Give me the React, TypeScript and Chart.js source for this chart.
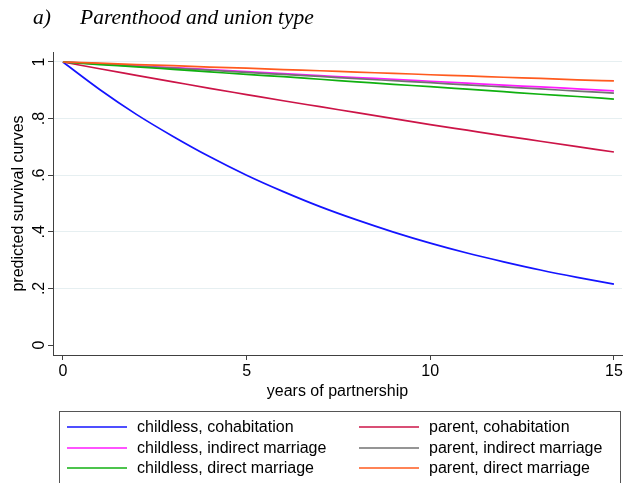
import { useEffect, useRef } from "react";
import { Chart, registerables } from "chart.js";

Chart.register(...registerables);

const years = [0, 1, 2, 3, 4, 5, 6, 7, 8, 9, 10, 11, 12, 13, 14, 15];
const childlessCohabitation = [1, 0.903, 0.815, 0.737, 0.665, 0.6, 0.542, 0.489, 0.442, 0.399, 0.36, 0.325, 0.294, 0.265, 0.239, 0.215];
const parentCohabitation = [1, 0.976, 0.953, 0.93, 0.907, 0.885, 0.863, 0.842, 0.821, 0.8, 0.779, 0.759, 0.739, 0.72, 0.701, 0.682];
const childlessIndirect = [1, 0.993, 0.986, 0.98, 0.973, 0.966, 0.959, 0.952, 0.945, 0.939, 0.932, 0.925, 0.918, 0.912, 0.905, 0.898];
const parentIndirect = [1, 0.993, 0.985, 0.978, 0.971, 0.963, 0.956, 0.949, 0.941, 0.934, 0.927, 0.919, 0.912, 0.905, 0.897, 0.89];
const childlessDirect = [1, 0.991, 0.983, 0.974, 0.965, 0.956, 0.948, 0.939, 0.93, 0.921, 0.913, 0.904, 0.895, 0.886, 0.878, 0.869];
const parentDirect = [1, 0.996, 0.991, 0.987, 0.982, 0.978, 0.973, 0.969, 0.964, 0.96, 0.955, 0.951, 0.946, 0.942, 0.937, 0.933];

const seriesLabels = [
  "childless, cohabitation",
  "parent, cohabitation",
  "childless, indirect marriage",
  "parent, indirect marriage",
  "childless, direct marriage",
  "parent, direct marriage",
];
const seriesValues = [childlessCohabitation, parentCohabitation, childlessIndirect, parentIndirect, childlessDirect, parentDirect];
const seriesColors = ["#1414ff", "#cc1447", "#ff1aff", "#727272", "#10b010", "#ff5a1e"];

const xTickValues = [0, 5, 10, 15];
const yTickValues = [0, 0.2, 0.4, 0.6, 0.8, 1];
const yTickLabels = ["0", ".2", ".4", ".6", ".8", "1"];

const titleTag = "a)";
const titleText = "Parenthood and union type";
const xTitle = "years of partnership";
const yTitle = "predicted survival curves";

const SANS = '"Liberation Sans", Arial, Helvetica, sans-serif';
const SERIF = '"Liberation Serif", "Times New Roman", serif';
const AXIS = "#404040";

const decorPlugin = {
  id: "decor",
  afterDraw(chart: any) {
    const ctx = chart.ctx as CanvasRenderingContext2D;
    const y = chart.scales.y;
    const area = chart.chartArea;
    ctx.save();
    // title
    ctx.fillStyle = "#000";
    ctx.font = `italic 21.5px ${SERIF}`;
    ctx.textBaseline = "alphabetic";
    ctx.textAlign = "left";
    ctx.fillText(titleTag, 33, 24);
    ctx.fillText(titleText, 80, 24);

    // y tick labels (rotated)
    ctx.font = `16px ${SANS}`;
    ctx.textAlign = "center";
    yTickValues.forEach((v, i) => {
      const py = y.getPixelForValue(v);
      ctx.save();
      ctx.translate(44, py);
      ctx.rotate(-Math.PI / 2);
      ctx.fillText(yTickLabels[i], 0, 0);
      ctx.restore();
    });
    // y title
    ctx.save();
    ctx.translate(23, (area.top + area.bottom) / 2);
    ctx.rotate(-Math.PI / 2);
    ctx.fillText(yTitle, 0, 0);
    ctx.restore();

    // legend
    const bx = 59.5, by = 411.5, bw = 561, bh = 100;
    ctx.strokeStyle = "#555";
    ctx.lineWidth = 1;
    ctx.strokeRect(bx, by, bw, bh);
    const rowY = [427, 448, 468];
    const colLine = [67, 359];
    const colText = [137, 429];
    ctx.textAlign = "left";
    ctx.textBaseline = "middle";
    ctx.font = `16px ${SANS}`;
    seriesLabels.forEach((lab, i) => {
      const r = Math.floor(i / 2);
      const c = i % 2;
      ctx.strokeStyle = seriesColors[i];
      ctx.lineWidth = 1.6;
      ctx.beginPath();
      ctx.moveTo(colLine[c], rowY[r]);
      ctx.lineTo(colLine[c] + 60, rowY[r]);
      ctx.stroke();
      ctx.fillStyle = "#000";
      ctx.fillText(lab, colText[c], rowY[r] + 1);
    });
    ctx.restore();
  },
};

export default function App() {
  const ref = useRef<HTMLCanvasElement | null>(null);
  useEffect(() => {
    document.body.style.margin = "0";
    const canvas = ref.current!;
    const chart = new Chart(canvas, {
      type: "line",
      data: {
        datasets: seriesValues.map((vals, i) => ({
          label: seriesLabels[i],
          data: years.map((t, j) => ({ x: t, y: vals[j] })),
          borderColor: seriesColors[i],
          backgroundColor: seriesColors[i],
          borderWidth: 1.7,
          pointRadius: 0,
          cubicInterpolationMode: "monotone" as const,
          fill: false,
          order: seriesValues.length - i,
        })),
      },
      options: {
        animation: false,
        responsive: false,
        devicePixelRatio: 1,
        layout: { padding: { top: 52, left: 0, right: 2, bottom: 68 } },
        plugins: {
          legend: { display: false },
          tooltip: { enabled: false },
          title: { display: false },
        },
        scales: {
          x: {
            type: "linear",
            min: -0.27,
            max: 15.22,
            afterBuildTicks: (s: any) => {
              s.ticks = xTickValues.map((v) => ({ value: v }));
            },
            afterFit: (s: any) => {
              s.height = 60;
              s.paddingLeft = 0;
              s.paddingRight = 0;
            },
            ticks: {
              font: { family: SANS, size: 16 },
              color: "#000",
              padding: 2,
              maxRotation: 0,
              autoSkip: false,
            },
            grid: {
              drawOnChartArea: false,
              drawTicks: true,
              tickLength: 5,
              tickColor: AXIS,
            },
            border: { display: true, color: AXIS, width: 1 },
            title: {
              display: true,
              text: xTitle,
              font: { family: SANS, size: 16 },
              color: "#000",
              padding: { top: 0, bottom: 14 },
            },
          },
          y: {
            type: "linear",
            min: -0.0353,
            max: 1.0353,
            afterBuildTicks: (s: any) => {
              s.ticks = yTickValues.map((v) => ({ value: v }));
            },
            afterFit: (s: any) => {
              s.width = 53;
              s.paddingTop = 0;
              s.paddingBottom = 0;
            },
            ticks: { display: false },
            grid: {
              color: (c: any) => (c.tick && c.tick.value === 0 ? "rgba(0,0,0,0)" : "#e6eff1"),
              lineWidth: 1,
              drawTicks: true,
              tickLength: 5,
              tickColor: AXIS,
            },
            border: { display: true, color: AXIS, width: 1 },
          },
        },
      },
      plugins: [decorPlugin],
    });
    return () => chart.destroy();
  }, []);
  return (
    <div style={{ width: 624, height: 483, background: "#fff" }}>
      <canvas ref={ref} width={624} height={483} style={{ display: "block" }} />
    </div>
  );
}
